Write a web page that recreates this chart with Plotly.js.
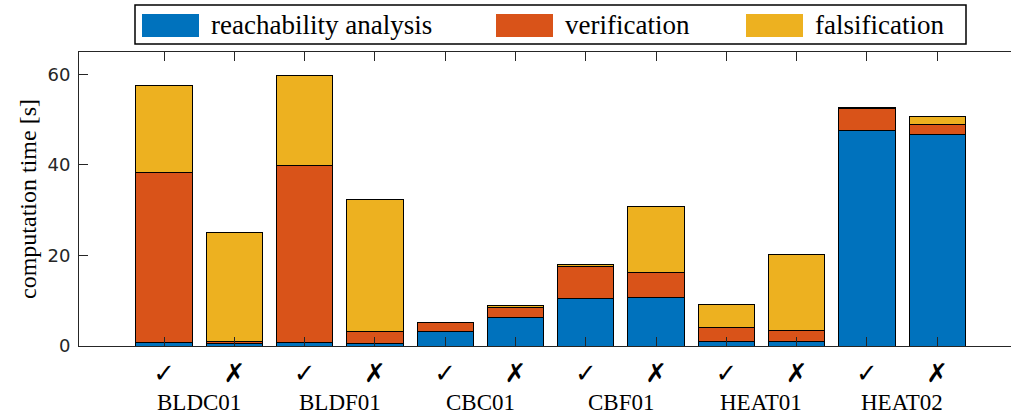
<!DOCTYPE html>
<html>
<head>
<meta charset="utf-8">
<script src="https://cdn.plot.ly/plotly-3.0.1.min.js"></script>
<style>html,body{margin:0;padding:0;background:#fff}#chart{width:1011px;height:414px}</style>
</head>
<body>
<div id="chart"></div>
<script>
// ---- data ----
var positions = [1,2,3,4,5,6,7,8,9,10,11,12];
var tickLabels = ["\u2713","\u2717","\u2713","\u2717","\u2713","\u2717","\u2713","\u2717","\u2713","\u2717","\u2713","\u2717"];
var benchmarks = ["BLDC01","BLDF01","CBC01","CBF01","HEAT01","HEAT02"];
var benchmarkCenters = [1.5,3.5,5.5,7.5,9.5,11.5];
var seriesNames = ["reachability analysis","verification","falsification"];
var reachability = [0.7, 0.5, 0.8, 0.5, 3.3, 6.2, 10.5, 10.6, 1.1, 1.1, 47.6, 46.6];
var verification = [37.7, 0.6, 39.0, 2.7, 1.8, 2.2, 7.1, 5.7, 3.0, 2.4, 4.8, 2.3];
var falsification = [19.2, 24.0, 19.9, 29.2, 0.1, 0.6, 0.3, 14.4, 5.0, 16.6, 0.2, 1.8];
var seriesColors = ["#0072BD","#D95319","#EDB120"];

// ---- figure ----
var W = 1011, H = 414;
var L = 79, R = 0, T = 52, B = 68;
function px(x){ return (x - L) / (W - L - R); }
function py(y){ return (H - B - y) / (H - T - B); }

var values = [reachability, verification, falsification];
var traces = values.map(function(v, i){
  return {
    type: "bar", x: positions, y: v, name: seriesNames[i], width: 0.8,
    marker: {color: seriesColors[i], line: {color: "#000", width: 1}},
    showlegend: false, hoverinfo: "skip"
  };
});

var serif = "Liberation Serif";
var annotations = benchmarks.map(function(b, i){
  return {xref: "x", yref: "paper", x: benchmarkCenters[i], y: py(402), text: b,
    showarrow: false, xanchor: "center", yanchor: "middle", borderpad: 0,
    font: {family: serif, size: 23, color: "#000"}};
});

// custom legend (MATLAB style boxed legend)
var shapes = [{type: "rect", xref: "paper", yref: "paper", x0: px(135), x1: px(966), y0: py(44), y1: py(5),
  line: {color: "#000", width: 1.5}, fillcolor: "#fff", layer: "above"}];
var swatchX = [142, 496, 746];
var textX = [209, 563, 813];
seriesNames.forEach(function(n, i){
  shapes.push({type: "rect", xref: "paper", yref: "paper", x0: px(swatchX[i]), x1: px(swatchX[i] + 57),
    y0: py(37), y1: py(14), line: {width: 0}, fillcolor: seriesColors[i], layer: "above"});
  annotations.push({xref: "paper", yref: "paper", x: px(textX[i]), y: py(25), text: n, showarrow: false,
    xanchor: "left", yanchor: "middle", font: {family: serif, size: 27, color: "#000"}});
});

var layout = {
  width: W, height: H,
  margin: {l: L, r: R, t: T, b: B, pad: 0},
  paper_bgcolor: "#fff", plot_bgcolor: "#fff",
  barmode: "stack", bargap: 0.2,
  showlegend: false,
  xaxis: {
    range: [-0.21, 13.05], tickmode: "array", tickvals: positions, ticktext: tickLabels,
    ticks: "inside", ticklen: 9, tickwidth: 1, tickcolor: "#262626",
    showline: true, linecolor: "#262626", linewidth: 1, mirror: "ticks",
    showgrid: false, zeroline: false, ticklabelstandoff: 4,
    tickfont: {family: "DejaVu Sans", size: 26, color: "#000", weight: "bold"}
  },
  yaxis: {
    range: [0, 64.9], tickvals: [0, 20, 40, 60],
    ticks: "inside", ticklen: 9, tickwidth: 1, tickcolor: "#262626",
    showline: true, linecolor: "#262626", linewidth: 1, mirror: false,
    showgrid: false, zeroline: false, ticklabelstandoff: 4,
    tickfont: {family: "DejaVu Sans", size: 18, color: "#262626"},
    title: {text: "computation time [s]", font: {family: serif, size: 24, color: "#000"}, standoff: 4}
  },
  annotations: annotations,
  shapes: shapes
};

Plotly.newPlot("chart", traces, layout, {staticPlot: true, displayModeBar: false});
</script>
</body>
</html>
